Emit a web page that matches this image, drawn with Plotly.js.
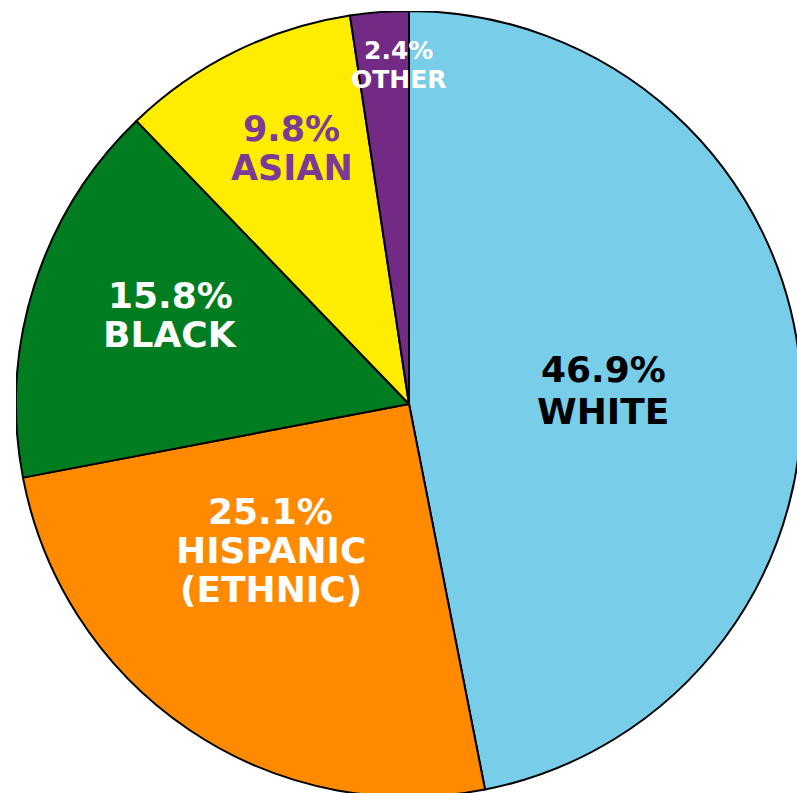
<!DOCTYPE html>
<html>
<head>
<meta charset="utf-8">
<script src="https://cdn.plot.ly/plotly-3.0.1.min.js"></script>
<style>
html,body{margin:0;padding:0;background:#fff;overflow:hidden;width:797px;height:793px;}
#chart{position:absolute;left:16px;top:11px;width:786px;height:786px;}
</style>
</head>
<body>
<div id="chart"></div>
<script>
// Data
var categories = ["WHITE", "HISPANIC", "BLACK", "ASIAN", "OTHER"];
var subLabels = ["", "(ETHNIC)", "", "", ""];
var values = [46.9, 25.1, 15.8, 9.8, 2.4];

// Styles
var sliceColors = ["#78CDE9", "#FF8A00", "#007D20", "#FFED00", "#722A85"];
var labelColors = ["#000000", "#FFFFFF", "#FFFFFF", "#7B3A96", "#FFFFFF"];
var labelSizes = [36, 36, 36, 35, 25];
var lineGap = [42, 39, 39, 39, 29];
var labelRadius = [0.495, 0.513, 0.649, 0.716, 0.864];
var labelAngleShift = [1.5, 9.2, 2.8, 1.6, 2.6]; // degrees

var trace = {
  type: "pie",
  values: values,
  labels: categories,
  sort: false,
  direction: "clockwise",
  rotation: 0,
  textinfo: "none",
  hoverinfo: "skip",
  marker: {colors: sliceColors, line: {color: "#000000", width: 2}},
  domain: {x: [0, 1], y: [0, 1]},
  showlegend: false
};

var SIZE = 786;
var total = values.reduce(function(a, b){ return a + b; }, 0);
var annotations = [];
var cum = 0;
for (var i = 0; i < values.length; i++) {
  var mid = (cum + values[i] / 2) / total * 360 + labelAngleShift[i];
  cum += values[i];
  var th = mid * Math.PI / 180;
  var r = labelRadius[i] * 0.5;
  var cx = 0.5 + r * Math.sin(th);
  var cy = 0.5 + r * Math.cos(th);
  var lines = [values[i].toFixed(1) + "%", categories[i]];
  if (subLabels[i]) lines.push(subLabels[i]);
  var n = lines.length;
  for (var k = 0; k < n; k++) {
    var off = ((n - 1) / 2 - k) * lineGap[i] / SIZE;
    annotations.push({
      xref: "paper", yref: "paper",
      x: cx, y: cy + off,
      text: lines[k],
      showarrow: false,
      xanchor: "center", yanchor: "middle",
      align: "center",
      font: {family: "'DejaVu Sans', sans-serif", size: labelSizes[i], color: labelColors[i], weight: 700}
    });
  }
}

var layout = {
  width: SIZE, height: SIZE,
  margin: {l: 0, r: 0, t: 0, b: 0},
  paper_bgcolor: "rgba(0,0,0,0)",
  plot_bgcolor: "rgba(0,0,0,0)",
  showlegend: false,
  annotations: annotations
};

Plotly.newPlot("chart", [trace], layout, {displayModeBar: false, staticPlot: true});
</script>
</body>
</html>
